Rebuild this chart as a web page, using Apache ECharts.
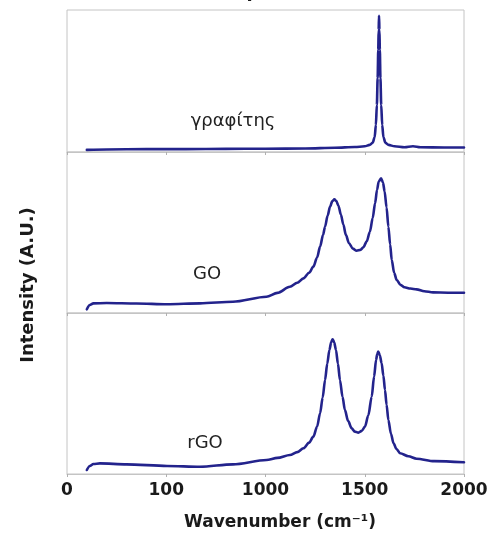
<!DOCTYPE html>
<html>
<head>
<meta charset="utf-8">
<script src="https://cdn.jsdelivr.net/npm/echarts@6/dist/echarts.min.js"></script>
<style>html,body{margin:0;padding:0;background:#fff;}#c{width:500px;height:538px;}</style>
</head>
<body>
<div id="c"></div>
<script>
// Tick labels as printed on the reference axis
const tickValues = [0, 500, 1000, 1500, 2000];
const tickLabels = ["0", "100", "1000", "1500", "2000"];
const panelNames = ["γραφίτης", "GO", "rGO"];

const graphiteX = [100, 200, 400, 600, 800, 1000, 1200, 1350, 1450, 1500, 1525, 1540, 1550, 1556, 1561, 1565, 1568, 1570, 1572, 1574, 1576, 1579, 1583, 1588, 1594, 1604, 1620, 1650, 1700, 1743, 1780, 1900, 2000];
const graphiteY = [1.5, 1.8, 2.0, 2.0, 2.2, 2.3, 2.5, 3.0, 3.5, 4.0, 5.0, 6.5, 10.5, 19, 33, 52, 72, 86, 96, 86, 72, 52, 33, 19, 10.5, 6.5, 5.0, 4.0, 3.3, 4.0, 3.3, 3.2, 3.2];

const goX = [100, 115, 133, 200, 350, 504, 670, 836, 1005, 1060, 1123, 1160, 1191, 1220, 1241, 1260, 1275, 1290, 1300, 1313, 1325, 1337, 1347, 1357, 1367, 1380, 1392, 1405, 1420, 1440, 1459, 1478, 1493, 1510, 1526, 1540, 1552, 1562, 1570, 1582, 1592, 1600, 1610, 1619, 1628, 1636, 1648, 1661, 1680, 1700, 1730, 1761, 1800, 1844, 1920, 2000];
const goY = [2.3, 5.0, 6.0, 6.2, 5.9, 5.4, 6.0, 7.0, 10.1, 12.5, 16.3, 18.8, 21.5, 25.0, 28.8, 34.5, 41.2, 48.5, 53.6, 60.5, 66.0, 69.5, 70.6, 69.5, 66.8, 61.0, 55.0, 48.5, 43.5, 40.0, 38.7, 39.2, 40.8, 44.5, 50.5, 59.0, 68.1, 76.5, 81.5, 83.7, 81.0, 75.5, 65.5, 53.6, 42.5, 32.9, 25.0, 20.5, 17.5, 16.0, 15.2, 14.7, 13.5, 12.8, 12.6, 12.6];

const rgoX = [100, 115, 133, 166, 300, 504, 670, 836, 1005, 1060, 1123, 1160, 1191, 1220, 1241, 1260, 1275, 1288, 1300, 1311, 1322, 1331, 1338, 1346, 1355, 1365, 1375, 1388, 1400, 1416, 1434, 1450, 1468, 1485, 1501, 1518, 1535, 1547, 1557, 1563, 1568, 1576, 1585, 1594, 1602, 1610, 1619, 1632, 1645, 1660, 1678, 1720, 1761, 1850, 2000];
const rgoY = [2.5, 5.0, 6.2, 6.6, 6.0, 5.0, 4.5, 6.0, 8.7, 10.0, 11.8, 13.6, 16.0, 19.5, 23.2, 29.5, 37.7, 47.5, 58.4, 68.5, 77.0, 82.0, 83.7, 81.8, 77.0, 68.5, 58.4, 48.0, 39.8, 33.0, 28.4, 26.3, 25.7, 26.8, 29.4, 36.5, 48.0, 60.5, 70.8, 74.5, 76.0, 73.8, 68.8, 61.0, 52.2, 43.0, 33.5, 25.0, 19.1, 15.5, 12.9, 11.0, 9.5, 8.0, 7.3];

const zip = (xs, ys) => xs.map((x, i) => [x, ys[i]]);
const seriesData = [zip(graphiteX, graphiteY), zip(goX, goY), zip(rgoX, rgoY)];

const lineColor = '#23238c';
const grids = [
  {left: 67, right: 36, top: 10, height: 142},
  {left: 67, right: 36, top: 152, height: 161},
  {left: 67, right: 36, top: 313, height: 161}
].map(g => Object.assign(g, {show: true, borderColor: '#c4c4c4', borderWidth: 1, backgroundColor: 'transparent'}));

const xAxes = grids.map((g, i) => ({
  type: 'value', gridIndex: i, min: 0, max: 2000, interval: 500,
  axisLine: {show: true, lineStyle: {color: '#c4c4c4', width: 1}},
  axisTick: {show: true, length: 3, lineStyle: {color: '#b0b0b0'}},
  splitLine: {show: false},
  axisLabel: {
    show: i === 2, margin: 8, color: '#1a1a1a', fontSize: 17, fontWeight: 'bold', fontFamily: 'DejaVu Sans',
    formatter: v => { const k = tickValues.indexOf(v); return k >= 0 ? tickLabels[k] : ''; }
  }
}));
const yAxes = grids.map((g, i) => ({type: 'value', gridIndex: i, min: 0, max: 100, show: false}));

const series = seriesData.map((d, i) => ({
  type: 'line', xAxisIndex: i, yAxisIndex: i, data: d, showSymbol: false, smooth: 0.3, smoothMonotone: 'x',
  lineStyle: {color: lineColor, width: 2.6, join: 'round', cap: 'round'}, itemStyle: {color: lineColor}
}));

const labelPos = [[233, 121], [207, 274], [205, 443]];
const graphic = panelNames.map((t, i) => ({
  type: 'text', x: labelPos[i][0], y: labelPos[i][1],
  style: {text: t, fill: '#222', font: '18px "DejaVu Sans"', textAlign: 'center', textVerticalAlign: 'middle'}
}));
graphic.push({
  type: 'text', x: 280, y: 523,
  style: {text: 'Wavenumber (cm⁻¹)', fill: '#1a1a1a', font: 'bold 17px "DejaVu Sans"', textAlign: 'center', textVerticalAlign: 'middle'}
});
graphic.push({
  type: 'text', x: 28, y: 285, rotation: Math.PI / 2,
  style: {text: 'Intensity (A.U.)', fill: '#1a1a1a', font: 'bold 18px "DejaVu Sans"', textAlign: 'center', textVerticalAlign: 'middle'}
});
graphic.push({
  type: 'text', x: 253, y: -8,
  style: {text: '(β)', fill: '#1a1a1a', font: 'bold 18px "DejaVu Sans"', textAlign: 'center', textVerticalAlign: 'middle'}
});

const chart = echarts.init(document.getElementById('c'), null, {renderer: 'canvas'});
chart.setOption({
  animation: false,
  grid: grids, xAxis: xAxes, yAxis: yAxes, series: series, graphic: graphic
});
</script>
</body>
</html>
